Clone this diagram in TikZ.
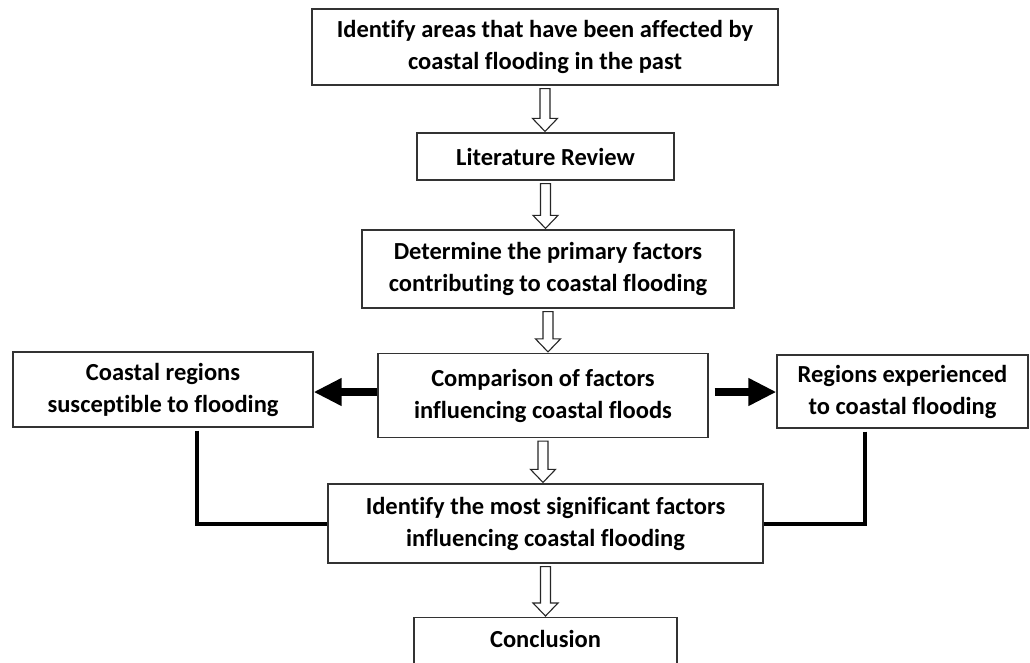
\documentclass[tikz,border=0pt]{standalone}
\usepackage{fontspec}
\setmainfont[Ligatures=NoCommon]{Carlito}
\usetikzlibrary{arrows.meta, positioning, calc}
\tikzset{
  box/.style    = {rectangle, draw=black!80, line width=1.2pt, fill=white,
                   align=center, inner sep=0pt,
                   font=\fontsize{24.5}{32}\selectfont\bfseries},
  hollow/.style = {draw=black!85, line width=1.1pt, fill=white, line join=miter},
  bigarrow/.style = {line width=8pt, -{Triangle[length=28pt, width=26pt]}},
  link/.style   = {line width=4pt}
}
% hollow down arrow between two named boxes
\newcommand{\hollowdown}[2]{%
  \path (#1.south) coordinate (hs) (#1.south |- #2.north) coordinate (ht);
  \draw[hollow] ($(hs)+(-5,3)$) -- ($(ht)+(-5,-14)$) -- ($(ht)+(-12.5,-14)$)
    -- ($(ht)+(0,-1)$) -- ($(ht)+(12.5,-14)$) -- ($(ht)+(5,-14)$)
    -- ($(hs)+(5,3)$) -- cycle;
}

\begin{document}
\begin{tikzpicture}[x=1pt, y=-1pt]
\useasboundingbox (0,0) rectangle (1030,662);

% ── Row y-coordinates (top → bottom) ─────────────────────────────────────
\def\yA{47}     % past flooding
\def\yB{156.5}  % literature
\def\yC{269}    % primary factors
\def\yD{395.5}  % comparison row
\def\yE{523.5}  % significant factors

% ── Main column ────────────────────────────────────────────────────────────
\node[box, minimum width=466pt, minimum height=76pt] (idn) at (545, \yA)
  {Identify areas that have been affected by\\coastal flooding in the past};
\node[box, minimum width=257pt, minimum height=47pt] (lit) at (545.5, \yB)
  {Literature Review};
\node[box, minimum width=372pt, minimum height=78pt] (prim) at (548, \yC)
  {Determine the primary factors\\contributing to coastal flooding};
\node[box, minimum width=330pt, minimum height=84pt] (cmp) at (543, \yD)
  {Comparison of factors\\influencing coastal floods};
\node[box, minimum width=435pt, minimum height=79pt] (sig) at (545.5, \yE)
  {Identify the most significant factors\\influencing coastal flooding};
\node[box, minimum width=263pt, anchor=north, text height=30pt, text depth=30pt]
  (conc) at (545.5, 617) {Conclusion};

% ── Side boxes ─────────────────────────────────────────────────────────────
\node[box, minimum width=300pt, minimum height=75pt] (lft) at (163, 389.5)
  {Coastal regions\\susceptible to flooding};
\node[box, minimum width=251pt, minimum height=73pt] (rgt) at (902.5, 391.5)
  {Regions experienced\\to coastal flooding};

% ── Hollow flow arrows ─────────────────────────────────────────────────────
\hollowdown{idn}{lit}
\hollowdown{lit}{prim}
\hollowdown{prim}{cmp}
\hollowdown{cmp}{sig}
\hollowdown{sig}{conc}

% ── Solid side arrows ──────────────────────────────────────────────────────
\draw[bigarrow] ([yshift=3.5pt]cmp.west) -- ([yshift=3.5pt]cmp.west -| lft.east);
\draw[bigarrow] ([xshift=6pt, yshift=3.5pt]cmp.east) -- ([yshift=3.5pt]cmp.east -| rgt.west);

% ── Links into significant factors ─────────────────────────────────────────
\draw[link] ([xshift=34pt, yshift=-3pt]lft.south) |- (sig.west);
\draw[link] ([xshift=-37.5pt, yshift=-3pt]rgt.south) |- (sig.east);

\end{tikzpicture}
\end{document}
